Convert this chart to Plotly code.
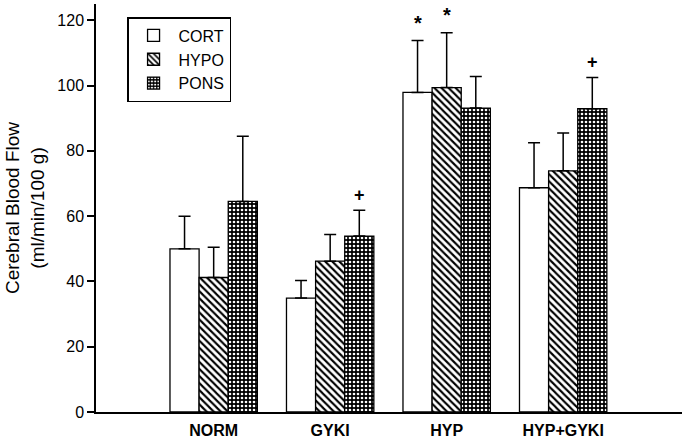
import plotly.graph_objects as go

categories = ["NORM", "GYKI", "HYP", "HYP+GYKI"]
series_names = ["CORT", "HYPO", "PONS"]
cort = [50.0, 34.9, 97.9, 68.7]
hypo = [41.2, 46.2, 99.4, 73.9]
pons = [64.5, 53.9, 93.1, 92.9]
cort_err = [10.0, 5.4, 15.9, 13.8]
hypo_err = [9.3, 8.2, 16.8, 11.6]
pons_err = [20.0, 7.9, 9.7, 9.6]
# significance marks: (category index, series index, symbol)
marks = [(2, 0, "*"), (2, 1, "*"), (1, 2, "+"), (3, 2, "+")]

values = [cort, hypo, pons]
errors = [cort_err, hypo_err, pons_err]
patterns = [
    dict(shape=""),
    dict(shape="\\", fgcolor="black", bgcolor="white", size=5, solidity=0.42),
    dict(shape=".", fgcolor="white", bgcolor="black", size=4, solidity=0.35),
]

FONT = "Liberation Sans, Arial, sans-serif"
fig = go.Figure()
for name, v, e, p in zip(series_names, values, errors, patterns):
    fig.add_trace(go.Bar(
        x=categories, y=v, name=name,
        marker=dict(color="white", line=dict(color="black", width=1.3), pattern=p),
        error_y=dict(type="data", array=e, arrayminus=[0]*len(e), symmetric=False,
                     color="black", thickness=1.5, width=6),
    ))

offsets = [-0.25, 0.0, 0.25]
for ci, si, sym in marks:
    top = values[si][ci] + errors[si][ci]
    fig.add_annotation(x=ci + offsets[si], y=top, text="<b>%s</b>" % sym,
                       showarrow=False, yshift=15 if sym == "+" else 18,
                       font=dict(family=FONT, size=18 if sym == "+" else 20, color="black"))

fig.update_layout(
    template="none",
    width=685, height=440,
    margin=dict(l=96, r=3, t=4, b=28),
    plot_bgcolor="white", paper_bgcolor="white",
    barmode="group", bargap=0.25, bargroupgap=0,
    font=dict(family=FONT, size=16, color="#000000"),
    showlegend=True,
    legend=dict(x=0.053, y=0.968, xanchor="left", yanchor="top",
                bordercolor="#000000", borderwidth=1.5, bgcolor="white",
                font=dict(family=FONT, size=16, color="#000000"),
                itemwidth=40, tracegroupgap=2),
    xaxis=dict(range=[-1.01, 4.02], showline=True, linecolor="#000000", linewidth=1.5,
               ticks="", automargin=False, ticklabelstandoff=3,
               tickfont=dict(family=FONT, size=16, color="#000000"),
               tickvals=[0, 1, 2, 3], ticktext=["<b>%s</b>" % c for c in categories],
               showgrid=False, zeroline=False),
    yaxis=dict(range=[0, 125], showline=True, linecolor="#000000", linewidth=1.5,
               ticks="outside", ticklen=7, tickwidth=1.5, tickcolor="#000000",
               automargin=False,
               tickvals=[0, 20, 40, 60, 80, 100, 120],
               tickfont=dict(family=FONT, size=16, color="#000000"),
               showgrid=False, zeroline=False,
               title=dict(text="Cerebral Blood Flow<br>(ml/min/100 g)",
                          font=dict(family=FONT, size=19, color="#000000"), standoff=8)),
)

fig.write_html("out.html", config={"displayModeBar": False},
               post_script="document.body.style.margin='0';document.body.style.overflow='hidden';")
